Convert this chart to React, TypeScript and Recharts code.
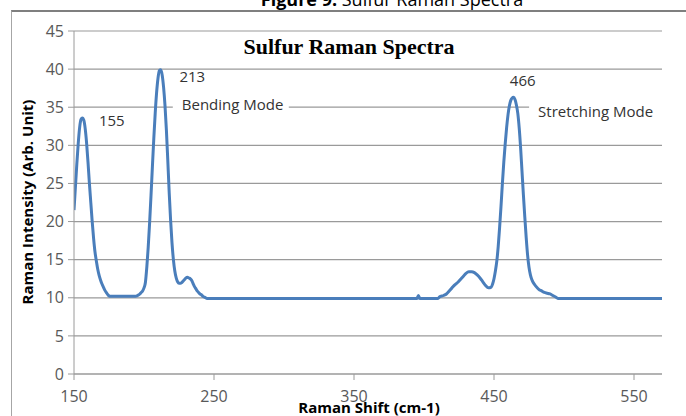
import { CartesianGrid, Line, LineChart, ReferenceDot, XAxis, YAxis } from 'recharts'

// Raman shift (cm-1) and intensity, point by point
const ramanShift = [
  150, 151, 152, 153, 154, 155, 156, 157, 158, 159, 160, 161, 162, 163, 164, 165, 166, 167, 168, 169,
  170, 171, 172, 173, 174, 175, 176, 185, 194, 195, 196, 197, 198, 199, 200, 201, 202, 203, 204, 205,
  206, 207, 208, 209, 210, 211, 212, 213, 214, 215, 216, 217, 218, 219, 220, 221, 222, 223, 224, 225,
  226, 227, 228, 229, 230, 231, 232, 233, 234, 235, 236, 237, 238, 239, 240, 241, 242, 243, 244, 245,
  300, 350, 395, 396, 397, 410, 411, 414, 416, 418, 420, 422, 424, 426, 428, 430, 432, 434, 436, 438,
  440, 442, 444, 446, 448, 449, 450, 451, 452, 453, 454, 455, 456, 457, 458, 459, 460, 461, 462, 463,
  464, 465, 466, 467, 468, 469, 470, 471, 472, 473, 474, 475, 476, 477, 478, 480, 482, 484, 486, 488,
  490, 492, 494, 496, 530, 570
]

const ramanIntensity = [
  21.5, 24.5, 27.5, 30.2, 32.3, 33.4, 33.6, 33.3, 32.2, 30.3, 27.8, 25.0, 22.5, 20.0, 17.8, 16.0, 14.8, 13.7, 12.9, 12.3,
  11.8, 11.4, 11.0, 10.7, 10.45, 10.25, 10.2, 10.2, 10.2, 10.25, 10.35, 10.5, 10.7, 10.9, 11.3, 12.0, 14.0, 16.6, 19.8, 23.4,
  27.2, 30.9, 34.2, 36.9, 38.8, 39.8, 39.9, 39.2, 37.6, 35.2, 32.0, 28.0, 23.8, 20.2, 17.2, 15.0, 13.5, 12.6, 12.1, 11.9,
  11.9, 12.0, 12.2, 12.4, 12.6, 12.7, 12.6, 12.5, 12.3, 11.9, 11.5, 11.2, 10.9, 10.7, 10.5, 10.4, 10.2, 10.1, 10.0, 9.9,
  9.9, 9.9, 9.9, 10.3, 9.9, 9.9, 10.1, 10.3, 10.5, 10.9, 11.3, 11.7, 12.0, 12.4, 12.8, 13.2, 13.4, 13.4, 13.3, 13.0,
  12.6, 12.1, 11.6, 11.3, 11.4, 11.8, 12.5, 13.5, 14.8, 16.7, 19.2, 22.0, 25.0, 27.8, 30.2, 32.3, 34.0, 35.2, 35.9, 36.2,
  36.3, 36.0, 35.3, 34.2, 32.3, 29.7, 26.6, 23.5, 20.6, 17.9, 15.6, 14.0, 13.0, 12.4, 12.0, 11.5, 11.1, 10.9, 10.7, 10.6,
  10.5, 10.3, 10.1, 9.9, 9.9, 9.9
]

const xTicks = [150, 250, 350, 450, 550]
const yTicks = [0, 5, 10, 15, 20, 25, 30, 35, 40, 45]

// text annotations anchored in data units (shift, intensity)
const annotationText = ['155', '213', 'Bending Mode', '466', 'Stretching Mode']
const annotationShift = [177, 234.5, 227, 470.5, 481.5]
const annotationIntensity = [33.3, 39.1, 35.4, 38.6, 34.5]
const annotationBoxed = [false, false, true, false, true]

const data = ramanShift.map((shift, i) => ({ shift, intensity: ramanIntensity[i] }))

const tickStyle = { fill: '#595959', fontSize: 16, fontFamily: 'Open Sans' }
const gray = '#9a9a9a'

export default function App() {
  return (
    <div style={{ position: 'fixed', left: 0, top: 0, width: 686, height: 416, background: '#fff', overflow: 'hidden' }}>
      <div
        style={{
          position: 'absolute',
          left: 11,
          top: 10,
          right: 0,
          bottom: 0,
          borderTop: '2px solid #7f7f7f',
          borderLeft: '1px solid #a6a6a6'
        }}
      />
      <LineChart width={686} height={416} data={data} margin={{ top: 31, right: 24, bottom: 0, left: 0 }}>
        <CartesianGrid horizontal vertical={false} stroke={gray} strokeWidth={1.2} />
        <XAxis
          dataKey="shift"
          type="number"
          domain={[150, 570]}
          ticks={xTicks}
          height={42}
          stroke={gray}
          tickSize={6}
          tickMargin={11}
          tick={tickStyle}
          allowDataOverflow
        />
        <YAxis
          type="number"
          domain={[0, 45]}
          ticks={yTicks}
          width={74}
          stroke={gray}
          tickSize={6}
          tickMargin={4}
          tick={tickStyle}
        />
        {annotationText.map((text, i) => (
          <ReferenceDot
            key={text}
            x={annotationShift[i]}
            y={annotationIntensity[i]}
            r={0}
            fill="none"
            stroke="none"
            label={(props: any) => <Annotation viewBox={props.viewBox} text={text} boxed={annotationBoxed[i]} />}
          />
        ))}
        <Line
          dataKey="intensity"
          type="monotone"
          stroke="#4a7ebb"
          strokeWidth={3}
          dot={false}
          isAnimationActive={false}
        />
      </LineChart>
      <svg width={686} height={416} style={{ position: 'absolute', left: 0, top: 0, pointerEvents: 'none' }}>
        <text x={392} y={6} textAnchor="middle" fontFamily="Open Sans" fontSize={18} fill="#000">
          <tspan fontWeight="bold">Figure 9:</tspan> Sulfur Raman Spectra
        </text>
        <text x={349} y={54} textAnchor="middle" fontFamily="Liberation Serif" fontWeight="bold" fontSize={22} fill="#000">
          Sulfur  Raman Spectra
        </text>
        <text
          x={27}
          y={202}
          textAnchor="middle"
          dominantBaseline="central"
          transform="rotate(-90 27 202)"
          fontFamily="Open Sans"
          fontWeight="bold"
          fontSize={15}
          fill="#000"
        >
          Raman Intensity (Arb. Unit)
        </text>
        <text x={369} y={413} textAnchor="middle" fontFamily="Open Sans" fontWeight="bold" fontSize={15} fill="#000">
          Raman Shift (cm-1)
        </text>
      </svg>
    </div>
  )
}

function Annotation({ viewBox, text, boxed }: { viewBox: any; text: string; boxed: boolean }) {
  const x = viewBox.x
  const y = viewBox.y
  const w = text.length * 8
  return (
    <g>
      {boxed && <rect x={x - 9} y={y - 11} width={w + 20} height={22} fill="#fff" />}
      <text
        x={x}
        y={y}
        textAnchor={boxed ? 'start' : 'middle'}
        dominantBaseline="central"
        fontFamily="Open Sans"
        fontSize={15}
        fill="#333"
      >
        {text}
      </text>
    </g>
  )
}
